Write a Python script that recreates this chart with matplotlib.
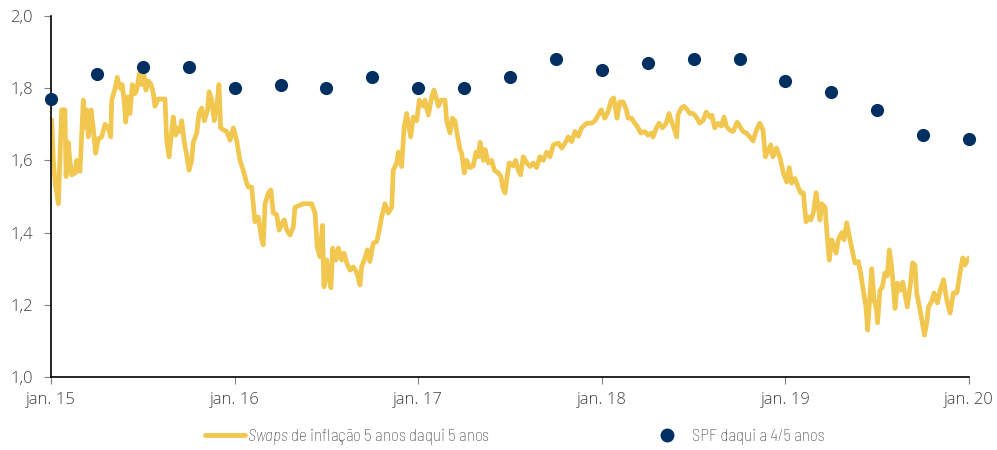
import matplotlib
matplotlib.use("Agg")
import matplotlib.pyplot as plt
from matplotlib.lines import Line2D

plt.rcParams['font.family'] = ['Open Sans', 'DejaVu Sans']
plt.rcParams['mathtext.fontset'] = 'custom'
plt.rcParams['mathtext.it'] = 'Barlow Semi Condensed:italic:weight=light'
plt.rcParams['mathtext.rm'] = 'Barlow Semi Condensed:weight=light'

# 5y5y inflation swaps (decimal year, %)
swap_time = [
    2015.004, 2015.0125, 2015.022, 2015.040, 2015.058, 2015.076, 2015.082, 2015.094,
    2015.103, 2015.113, 2015.131, 2015.140, 2015.149, 2015.158, 2015.176, 2015.185,
    2015.194, 2015.203, 2015.218, 2015.230, 2015.243, 2015.258, 2015.276, 2015.294,
    2015.312, 2015.325, 2015.331, 2015.349, 2015.361, 2015.376, 2015.388, 2015.399,
    2015.407, 2015.418, 2015.430, 2015.443, 2015.458, 2015.467, 2015.481, 2015.494,
    2015.503, 2015.517, 2015.530, 2015.545, 2015.557, 2015.566, 2015.584, 2015.621,
    2015.630, 2015.643, 2015.654, 2015.666, 2015.679, 2015.693, 2015.703, 2015.712,
    2015.726, 2015.739, 2015.752, 2015.766, 2015.775, 2015.794, 2015.806, 2015.821,
    2015.835, 2015.853, 2015.861, 2015.875, 2015.889, 2015.903, 2015.915, 2015.924,
    2015.938, 2015.957, 2015.975, 2015.993, 2016.011, 2016.029, 2016.047, 2016.066,
    2016.075, 2016.093, 2016.111, 2016.129, 2016.148, 2016.156, 2016.166, 2016.184,
    2016.197, 2016.211, 2016.229, 2016.243, 2016.257, 2016.271, 2016.284, 2016.302,
    2016.320, 2016.329, 2016.356, 2016.374, 2016.420, 2016.438, 2016.450, 2016.465,
    2016.478, 2016.487, 2016.502, 2016.514, 2016.525, 2016.534, 2016.552, 2016.565,
    2016.583, 2016.596, 2016.611, 2016.629, 2016.647, 2016.665, 2016.683, 2016.692,
    2016.710, 2016.723, 2016.737, 2016.755, 2016.774, 2016.788, 2016.801, 2016.819,
    2016.837, 2016.856, 2016.864, 2016.883, 2016.892, 2016.910, 2016.923, 2016.937,
    2016.959, 2016.973, 2016.992, 2017.006, 2017.028, 2017.037, 2017.055, 2017.074,
    2017.086, 2017.101, 2017.110, 2017.124, 2017.146, 2017.155, 2017.173, 2017.186,
    2017.200, 2017.215, 2017.228, 2017.237, 2017.251, 2017.264, 2017.282, 2017.300,
    2017.315, 2017.327, 2017.337, 2017.355, 2017.364, 2017.382, 2017.400, 2017.415,
    2017.436, 2017.451, 2017.460, 2017.473, 2017.487, 2017.496, 2017.518, 2017.531,
    2017.545, 2017.558, 2017.572, 2017.591, 2017.609, 2017.627, 2017.645, 2017.663,
    2017.681, 2017.700, 2017.718, 2017.736, 2017.763, 2017.782, 2017.800, 2017.818,
    2017.836, 2017.854, 2017.872, 2017.890, 2017.918, 2017.945, 2017.963, 2017.981,
    2017.997, 2018.016, 2018.034, 2018.052, 2018.065, 2018.083, 2018.098, 2018.116,
    2018.134, 2018.143, 2018.161, 2018.180, 2018.198, 2018.212, 2018.234, 2018.252,
    2018.270, 2018.279, 2018.297, 2018.312, 2018.330, 2018.351, 2018.366, 2018.378,
    2018.393, 2018.408, 2018.415, 2018.433, 2018.448, 2018.466, 2018.479, 2018.497,
    2018.515, 2018.533, 2018.551, 2018.569, 2018.588, 2018.600, 2018.615, 2018.633,
    2018.651, 2018.666, 2018.678, 2018.697, 2018.715, 2018.738, 2018.751, 2018.769,
    2018.787, 2018.806, 2018.824, 2018.842, 2018.860, 2018.878, 2018.891, 2018.905,
    2018.920, 2018.932, 2018.951, 2018.971, 2018.989, 2019.007, 2019.021, 2019.034,
    2019.052, 2019.070, 2019.083, 2019.098, 2019.112, 2019.125, 2019.138, 2019.152,
    2019.167, 2019.179, 2019.188, 2019.198, 2019.216, 2019.225, 2019.239, 2019.252,
    2019.265, 2019.276, 2019.288, 2019.307, 2019.319, 2019.334, 2019.348, 2019.367,
    2019.379, 2019.397, 2019.410, 2019.424, 2019.439, 2019.448, 2019.461, 2019.470,
    2019.483, 2019.497, 2019.502, 2019.515, 2019.528, 2019.542, 2019.555, 2019.566,
    2019.579, 2019.597, 2019.610, 2019.624, 2019.639, 2019.651, 2019.664, 2019.679,
    2019.693, 2019.706, 2019.715, 2019.733, 2019.746, 2019.757, 2019.770, 2019.779,
    2019.797, 2019.810, 2019.828, 2019.843, 2019.861, 2019.879, 2019.897, 2019.915,
    2019.934, 2019.951, 2019.966, 2019.978, 2019.991, 2020.000,
]
swap_value = [
    1.712, 1.60, 1.54, 1.48, 1.74, 1.74, 1.555, 1.65,
    1.60, 1.56, 1.565, 1.60, 1.57, 1.57, 1.767, 1.69,
    1.74, 1.665, 1.74, 1.69, 1.62, 1.66, 1.665, 1.70,
    1.69, 1.665, 1.767, 1.80, 1.83, 1.80, 1.81, 1.76,
    1.706, 1.776, 1.73, 1.81, 1.785, 1.795, 1.84, 1.81,
    1.85, 1.795, 1.82, 1.81, 1.787, 1.75, 1.77, 1.77,
    1.656, 1.61, 1.665, 1.72, 1.67, 1.69, 1.68, 1.71,
    1.65, 1.615, 1.573, 1.60, 1.65, 1.676, 1.73, 1.745,
    1.71, 1.74, 1.79, 1.767, 1.71, 1.75, 1.81, 1.69,
    1.685, 1.68, 1.656, 1.69, 1.656, 1.60, 1.573, 1.537,
    1.526, 1.526, 1.43, 1.443, 1.38, 1.366, 1.48, 1.51,
    1.518, 1.454, 1.45, 1.407, 1.425, 1.435, 1.407, 1.393,
    1.416, 1.47, 1.476, 1.48, 1.48, 1.454, 1.36, 1.333,
    1.42, 1.25, 1.324, 1.27, 1.247, 1.357, 1.324, 1.357,
    1.324, 1.343, 1.316, 1.296, 1.305, 1.29, 1.255, 1.305,
    1.33, 1.352, 1.32, 1.37, 1.375, 1.407, 1.443, 1.48,
    1.454, 1.47, 1.573, 1.593, 1.623, 1.583, 1.69, 1.73,
    1.665, 1.72, 1.71, 1.767, 1.75, 1.767, 1.726, 1.776,
    1.795, 1.767, 1.75, 1.767, 1.767, 1.71, 1.676, 1.717,
    1.71, 1.665, 1.63, 1.62, 1.565, 1.60, 1.58, 1.585,
    1.623, 1.61, 1.65, 1.60, 1.63, 1.593, 1.60, 1.573,
    1.565, 1.555, 1.526, 1.51, 1.565, 1.593, 1.585, 1.60,
    1.573, 1.56, 1.61, 1.593, 1.583, 1.593, 1.58, 1.61,
    1.60, 1.623, 1.61, 1.643, 1.648, 1.634, 1.648, 1.665,
    1.652, 1.68, 1.667, 1.69, 1.703, 1.703, 1.71, 1.726,
    1.74, 1.717, 1.734, 1.767, 1.773, 1.717, 1.762, 1.762,
    1.74, 1.717, 1.717, 1.703, 1.69, 1.676, 1.68, 1.67,
    1.676, 1.665, 1.69, 1.703, 1.69, 1.703, 1.73, 1.71,
    1.69, 1.665, 1.726, 1.745, 1.75, 1.74, 1.73, 1.73,
    1.72, 1.703, 1.71, 1.734, 1.72, 1.725, 1.69, 1.703,
    1.695, 1.72, 1.695, 1.684, 1.68, 1.706, 1.695, 1.68,
    1.676, 1.665, 1.654, 1.684, 1.703, 1.684, 1.61, 1.625,
    1.643, 1.61, 1.634, 1.607, 1.565, 1.54, 1.58, 1.537,
    1.55, 1.526, 1.51, 1.51, 1.43, 1.443, 1.435, 1.454,
    1.51, 1.47, 1.435, 1.48, 1.47, 1.407, 1.324, 1.38,
    1.36, 1.343, 1.38, 1.40, 1.38, 1.427, 1.39, 1.343,
    1.316, 1.32, 1.288, 1.24, 1.194, 1.13, 1.233, 1.30,
    1.213, 1.185, 1.15, 1.24, 1.25, 1.288, 1.28, 1.352,
    1.305, 1.19, 1.26, 1.24, 1.263, 1.23, 1.194, 1.25,
    1.316, 1.31, 1.233, 1.186, 1.15, 1.116, 1.15, 1.194,
    1.21, 1.233, 1.205, 1.24, 1.27, 1.213, 1.177, 1.233,
    1.233, 1.288, 1.33, 1.31, 1.324, 1.33,
]

# SPF expectations 4/5 years ahead, quarterly survey rounds
spf_time = [2015 + q / 4 for q in range(21)]
spf_value = [1.77, 1.84, 1.86, 1.86, 1.80, 1.81, 1.80, 1.83, 1.80, 1.80, 1.83,
             1.88, 1.85, 1.87, 1.88, 1.88, 1.82, 1.79, 1.74, 1.67, 1.66]

x_ticks = [2015, 2016, 2017, 2018, 2019, 2020]
x_labels = ["jan. 15", "jan. 16", "jan. 17", "jan. 18", "jan. 19", "jan. 20"]
y_ticks = [1.0, 1.2, 1.4, 1.6, 1.8, 2.0]
y_labels = ["1,0", "1,2", "1,4", "1,6", "1,8", "2,0"]

swap_label = r"$\it{Swaps}$ de inflação 5 anos daqui 5 anos"
spf_label = "SPF daqui a 4/5 anos"

yellow = "#F2C750"
navy = "#002F62"
text_grey = "#404040"

fig = plt.figure(figsize=(9.97, 4.5), dpi=100)
ax = fig.add_axes([51 / 997, 73 / 450, 918 / 997, 361 / 450])

ax.plot(swap_time, swap_value, color=yellow, lw=3.4, solid_joinstyle='round',
        solid_capstyle='round', zorder=2)
ax.scatter(spf_time, spf_value, s=90, color=navy, zorder=3, clip_on=False,
           linewidths=0)

ax.set_xlim(2015, 2020)
ax.set_ylim(1.0, 2.0)
ax.set_xticks(x_ticks)
ax.set_xticklabels(x_labels)
ax.set_yticks(y_ticks)
ax.set_yticklabels(y_labels)

for side in ("top", "right"):
    ax.spines[side].set_visible(False)
for side in ("left", "bottom"):
    ax.spines[side].set_color("black")
    ax.spines[side].set_linewidth(1.2)

ax.tick_params(axis="both", direction="out", length=5, width=0.8,
               color="#808080", labelcolor=text_grey, labelsize=12)
ax.tick_params(axis="x", pad=6)
ax.tick_params(axis="y", pad=8)
for lab in ax.get_xticklabels() + ax.get_yticklabels():
    lab.set_fontweight("light")

legend_font = {"family": "Barlow Semi Condensed", "weight": "light", "size": 12.2}
handles = [
    Line2D([], [], color=yellow, lw=3.5, solid_capstyle='round'),
    Line2D([], [], color=navy, marker='o', ls='none', markersize=9),
]
leg1 = fig.legend(handles[:1], [swap_label], loc="center left",
                  bbox_to_anchor=(205 / 997, 0.028), frameon=False, prop=legend_font,
                  handlelength=2.36, handletextpad=0.12, borderpad=0, borderaxespad=0)
leg2 = fig.legend(handles[1:], [spf_label], loc="center left",
                  bbox_to_anchor=(650 / 997, 0.028), frameon=False, prop=legend_font,
                  handlelength=2.0, handletextpad=0.5, borderpad=0, borderaxespad=0)
for leg in (leg1, leg2):
    for t in leg.get_texts():
        t.set_color(text_grey)

fig.savefig("out.png", dpi=100)
